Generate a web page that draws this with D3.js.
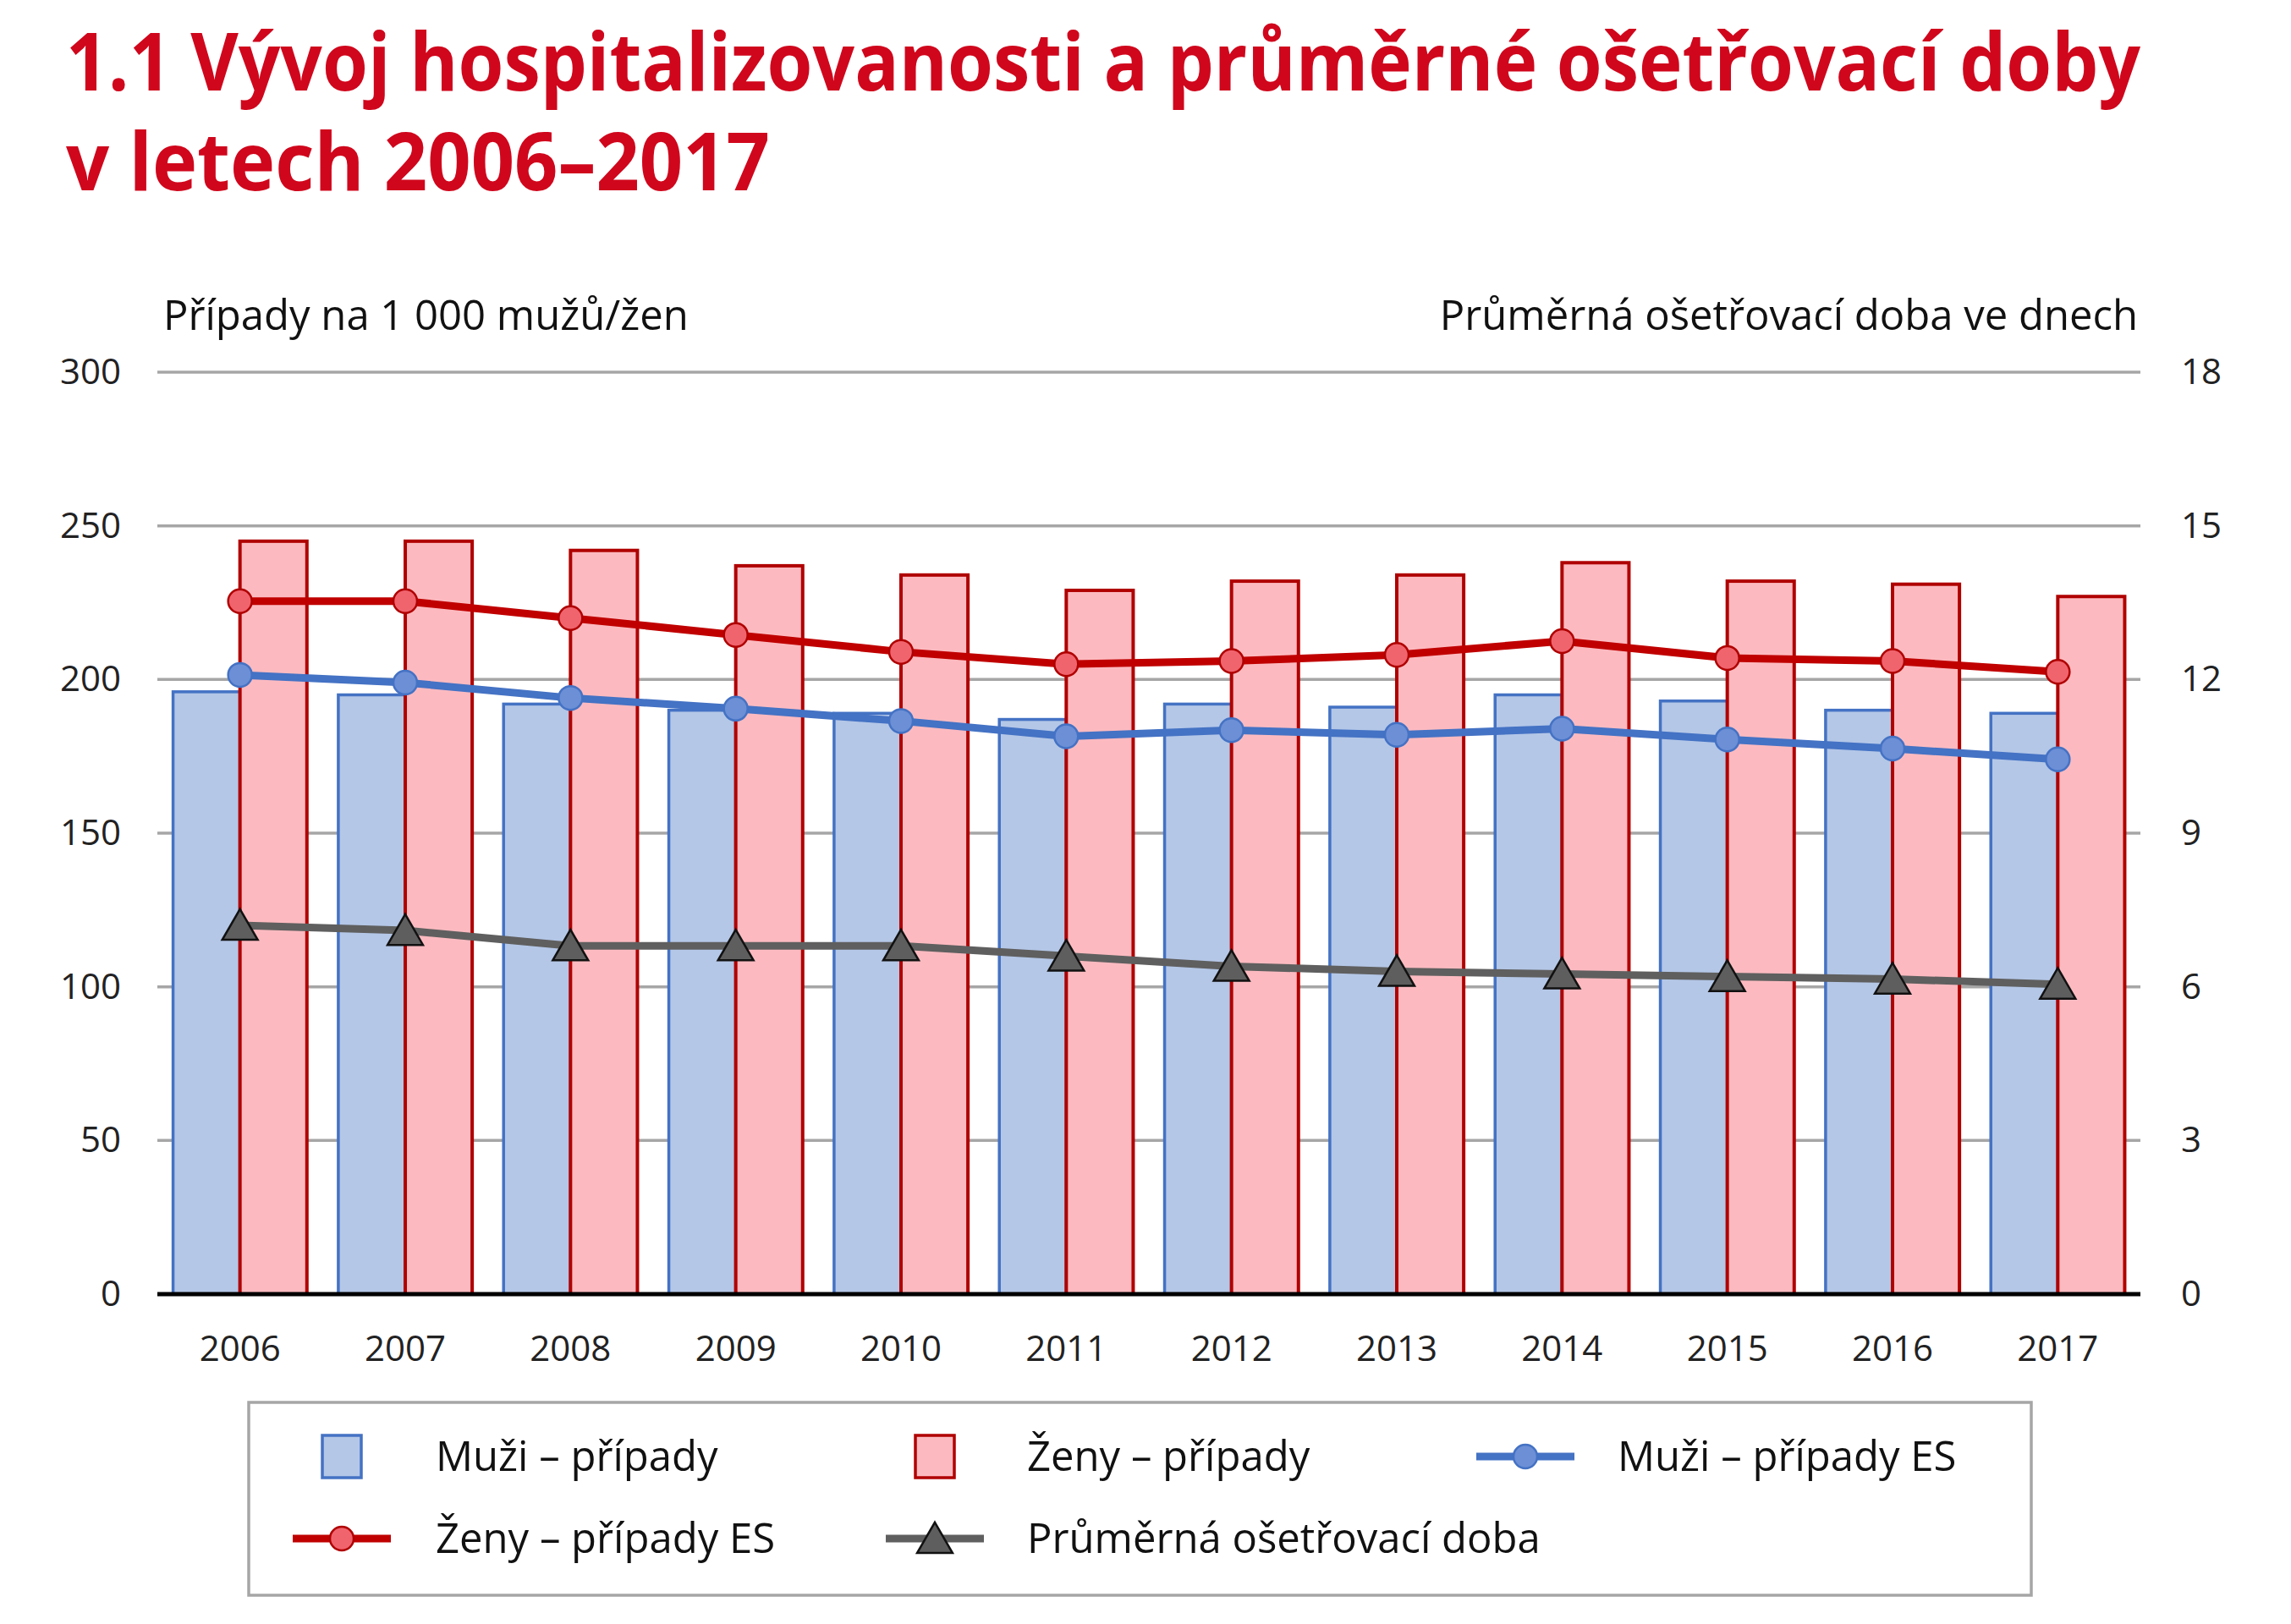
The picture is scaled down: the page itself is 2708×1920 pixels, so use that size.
<!DOCTYPE html>
<html>
<head>
<meta charset="utf-8">
<script src="https://cdn.jsdelivr.net/npm/d3@7"></script>
<style>
  body{margin:0;background:#fff}
  text{font-family:"Open Sans","Noto Sans",sans-serif}
</style>
</head>
<body>
<svg id="chart" width="2708" height="1920"></svg>
<script>
// data
const years=["2006","2007","2008","2009","2010","2011","2012","2013","2014","2015","2016","2017"]
const muzi=[196,195,192,190,189,187,192,191,195,193,190,189]
const zeny=[245,245,242,237,234,229,232,234,238,232,231,227]
const muziES=[201.5,199,194,190.5,186.5,181.5,183.5,182,184,180.5,177.5,174]
const zenyES=[225.5,225.5,220,214.5,209,205,206,208,212.5,207,206,202.5]
const doba=[7.2,7.1,6.8,6.8,6.8,6.6,6.4,6.3,6.25,6.2,6.15,6.05]
const leftTicks=[0,50,100,150,200,250,300]
const rightTicks=[0,3,6,9,12,15,18]

const svg=d3.select("#chart")
const m={left:186,right:2530,top:440,bottom:1530}
const RED="#D0061C"

const x=d3.scaleBand().domain(years).range([m.left,m.right]).paddingInner(0.19).paddingOuter(0.095)
const y=d3.scaleLinear().domain([0,300]).range([m.bottom,m.top])
const y2=d3.scaleLinear().domain([0,18]).range([m.bottom,m.top])
const cx=d=>x(d)+x.bandwidth()/2
const bw=x.bandwidth()/2

// title, squeezed to the width of the original
svg.append("text").attr("x",78).attr("y",107)
  .attr("font-size",95).attr("font-weight",700).attr("fill",RED)
  .attr("textLength",2452).attr("lengthAdjust","spacingAndGlyphs")
  .text("1.1 Vývoj hospitalizovanosti a průměrné ošetřovací doby")
svg.append("text").attr("x",78).attr("y",225)
  .attr("font-size",95).attr("font-weight",700).attr("fill",RED)
  .attr("textLength",832).attr("lengthAdjust","spacingAndGlyphs")
  .text("v letech 2006–2017")

// axis titles
svg.append("text").attr("x",193).attr("y",390).attr("font-size",49).attr("fill","#111")
  .text("Případy na 1 000 mužů/žen")
svg.append("text").attr("x",2527).attr("y",390).attr("font-size",49).attr("fill","#111")
  .attr("text-anchor","end").text("Průměrná ošetřovací doba ve dnech")

// grid
svg.append("g").selectAll("line").data(leftTicks.filter(d=>d>0)).join("line")
  .attr("x1",m.left).attr("x2",m.right).attr("y1",d=>y(d)).attr("y2",d=>y(d))
  .attr("stroke","#A6A6A6").attr("stroke-width",3.5)

// axes (labels only)
const axL=svg.append("g").attr("transform",`translate(${m.left},0)`)
  .call(d3.axisLeft(y).tickValues(leftTicks).tickSize(0).tickPadding(43))
const axR=svg.append("g").attr("transform",`translate(${m.right},0)`)
  .call(d3.axisRight(y2).tickValues(rightTicks).tickSize(0).tickPadding(48))
const axB=svg.append("g").attr("transform",`translate(0,${m.bottom})`)
  .call(d3.axisBottom(x).tickSize(0).tickPadding(49))
;[axL,axR,axB].forEach(a=>{
  a.select(".domain").remove()
  a.selectAll("text").attr("font-size",42).attr("fill","#222").attr("font-family","Open Sans")
})

// bars
svg.append("g").selectAll("rect").data(years).join("rect")
  .attr("x",d=>x(d)).attr("width",bw)
  .attr("y",(d,i)=>y(muzi[i])).attr("height",(d,i)=>y(0)-y(muzi[i]))
  .attr("fill","#B4C7E7").attr("stroke","#4472C4").attr("stroke-width",3.5)
svg.append("g").selectAll("rect").data(years).join("rect")
  .attr("x",d=>x(d)+bw).attr("width",bw)
  .attr("y",(d,i)=>y(zeny[i])).attr("height",(d,i)=>y(0)-y(zeny[i]))
  .attr("fill","#FCBAC0").attr("stroke","#B00000").attr("stroke-width",4)

// x baseline
svg.append("line").attr("x1",m.left).attr("x2",m.right).attr("y1",m.bottom).attr("y2",m.bottom)
  .attr("stroke","#000").attr("stroke-width",5)

// lines
const tri=d3.symbol(d3.symbolTriangle,760)
function series(vals,sc,color,width){
  svg.append("path").datum(vals)
    .attr("d",d3.line().x((d,i)=>cx(years[i])).y(d=>sc(d)))
    .attr("fill","none").attr("stroke",color).attr("stroke-width",width).attr("stroke-linejoin","round")
}
series(doba,y2,"#5F5F5F",9)
svg.append("g").selectAll("path").data(doba).join("path")
  .attr("d",tri).attr("transform",(d,i)=>`translate(${cx(years[i])},${y2(d)+5})`)
  .attr("fill","#5E5E5E").attr("stroke","#111").attr("stroke-width",2.5)
series(muziES,y,"#4472C4",9)
svg.append("g").selectAll("circle").data(muziES).join("circle")
  .attr("cx",(d,i)=>cx(years[i])).attr("cy",d=>y(d)).attr("r",14)
  .attr("fill","#6C8FD6").attr("stroke","#4472C4").attr("stroke-width",2.5)
series(zenyES,y,"#C00000",9)
svg.append("g").selectAll("circle").data(zenyES).join("circle")
  .attr("cx",(d,i)=>cx(years[i])).attr("cy",d=>y(d)).attr("r",14)
  .attr("fill","#F0646E").attr("stroke","#B00000").attr("stroke-width",2.5)

// legend
svg.append("rect").attr("x",294).attr("y",1658).attr("width",2107).attr("height",228)
  .attr("fill","none").attr("stroke","#A6A6A6").attr("stroke-width",3.5)
const legend=[
  {label:"Muži – případy",type:"bar",fill:"#B4C7E7",stroke:"#4472C4",sx:404,tx:515,cy:1722},
  {label:"Ženy – případy",type:"bar",fill:"#FCBAC0",stroke:"#B00000",sx:1105,tx:1214,cy:1722},
  {label:"Muži – případy ES",type:"circle",fill:"#6C8FD6",stroke:"#4472C4",sx:1803,tx:1912,cy:1722},
  {label:"Ženy – případy ES",type:"circle",fill:"#F0646E",stroke:"#C00000",sx:404,tx:515,cy:1819},
  {label:"Průměrná ošetřovací doba",type:"tri",fill:"#5E5E5E",stroke:"#5F5F5F",sx:1105,tx:1214,cy:1819}
]
const lg=svg.append("g").selectAll("g").data(legend).join("g")
lg.each(function(d){
  const g=d3.select(this)
  if(d.type==="bar"){
    g.append("rect").attr("x",d.sx-23).attr("y",d.cy-25).attr("width",46).attr("height",50)
      .attr("fill",d.fill).attr("stroke",d.stroke).attr("stroke-width",3.5)
  } else {
    g.append("line").attr("x1",d.sx-58).attr("x2",d.sx+58).attr("y1",d.cy).attr("y2",d.cy)
      .attr("stroke",d.stroke).attr("stroke-width",9)
    if(d.type==="circle"){
      g.append("circle").attr("cx",d.sx).attr("cy",d.cy).attr("r",14)
        .attr("fill",d.fill).attr("stroke",d.type==="circle"&&d.stroke==="#C00000"?"#B00000":d.stroke).attr("stroke-width",2.5)
    } else {
      g.append("path").attr("d",tri).attr("transform",`translate(${d.sx},${d.cy+5})`)
        .attr("fill",d.fill).attr("stroke","#111").attr("stroke-width",2.5)
    }
  }
  g.append("text").attr("x",d.tx).attr("y",d.cy+17).attr("font-size",49).attr("fill","#111").text(d.label)
})
</script>
</body>
</html>
